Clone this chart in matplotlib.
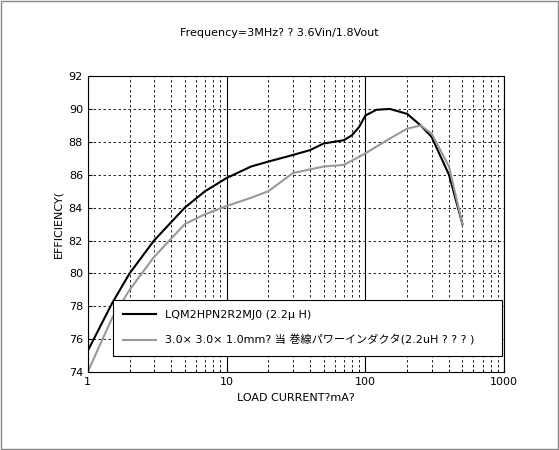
import matplotlib
matplotlib.use("Agg")
import matplotlib.pyplot as plt
from matplotlib.patches import Rectangle

plt.rcParams['font.family'] = ['DejaVu Sans', 'Noto Sans CJK JP']

x_black = [1, 1.5, 2, 3, 5, 7, 10, 15, 20, 30, 40, 50, 70, 80, 90, 100, 120, 150, 200, 250, 300, 400, 500]
y_black = [75.3, 78.2, 80.0, 82.0, 84.0, 85.0, 85.8, 86.5, 86.8, 87.2, 87.5, 87.9, 88.1, 88.4, 88.9, 89.6, 89.95, 90.0, 89.7, 89.0, 88.3, 86.0, 83.0]
x_gray = [1, 1.2, 1.5, 2, 3, 5, 7, 10, 15, 20, 30, 50, 70, 100, 150, 200, 250, 300, 400, 500]
y_gray = [74.0, 75.5, 77.3, 79.0, 81.0, 83.0, 83.6, 84.1, 84.6, 85.0, 86.1, 86.5, 86.6, 87.3, 88.2, 88.8, 89.0, 88.5, 86.5, 83.0]
yticks = [74, 76, 78, 80, 82, 84, 86, 88, 90, 92]
xticks = [1, 10, 100, 1000]

fig = plt.figure(figsize=(5.59, 4.5), dpi=100)
fig.patches.append(Rectangle((0.002, 0.002), 0.996, 0.996, transform=fig.transFigure,
                             fill=False, edgecolor='#888888', lw=1))
ax = fig.add_axes([0.157, 0.173, 0.745, 0.658])
ax.set_xscale('log')
ax.set_xlim(1, 1000)
ax.set_ylim(74, 92)
ax.set_yticks(yticks)
ax.set_xticks(xticks)
ax.set_xticklabels([str(t) for t in xticks])
ax.tick_params(labelsize=8, direction='in', length=3)
ax.tick_params(which='minor', direction='in', length=2)
ax.grid(True, which='minor', axis='x', color='black', ls=(0, (3, 3)), lw=0.6)
ax.grid(True, which='major', axis='x', color='black', lw=0.8)
ax.grid(True, which='major', axis='y', color='black', ls=(0, (3, 3)), lw=0.6)

l1, = ax.plot(x_black, y_black, color='black', lw=1.5)
l2, = ax.plot(x_gray, y_gray, color='#999999', lw=1.5)
leg = ax.legend([l1, l2], ['LQM2HPN2R2MJ0 (2.2μ H)', '3.0× 3.0× 1.0mm? 当 巻線パワーインダクタ(2.2uH ? ? ? )'],
                loc='center left', bbox_to_anchor=(0.06, 0.047, 0.935, 0.206), mode='expand',
                fontsize=8, fancybox=False, framealpha=1, edgecolor='black',
                borderpad=0.9, labelspacing=1.3, handlelength=3, borderaxespad=0)
leg.get_frame().set_linewidth(0.8)
ax.set_xlabel('LOAD CURRENT?mA?', fontsize=8)
ax.set_ylabel('EFFICIENCY(', fontsize=8)
fig.text(0.5, 0.92, 'Frequency=3MHz? ? 3.6Vin/1.8Vout', ha='center', fontsize=8)
fig.savefig('out.png')
